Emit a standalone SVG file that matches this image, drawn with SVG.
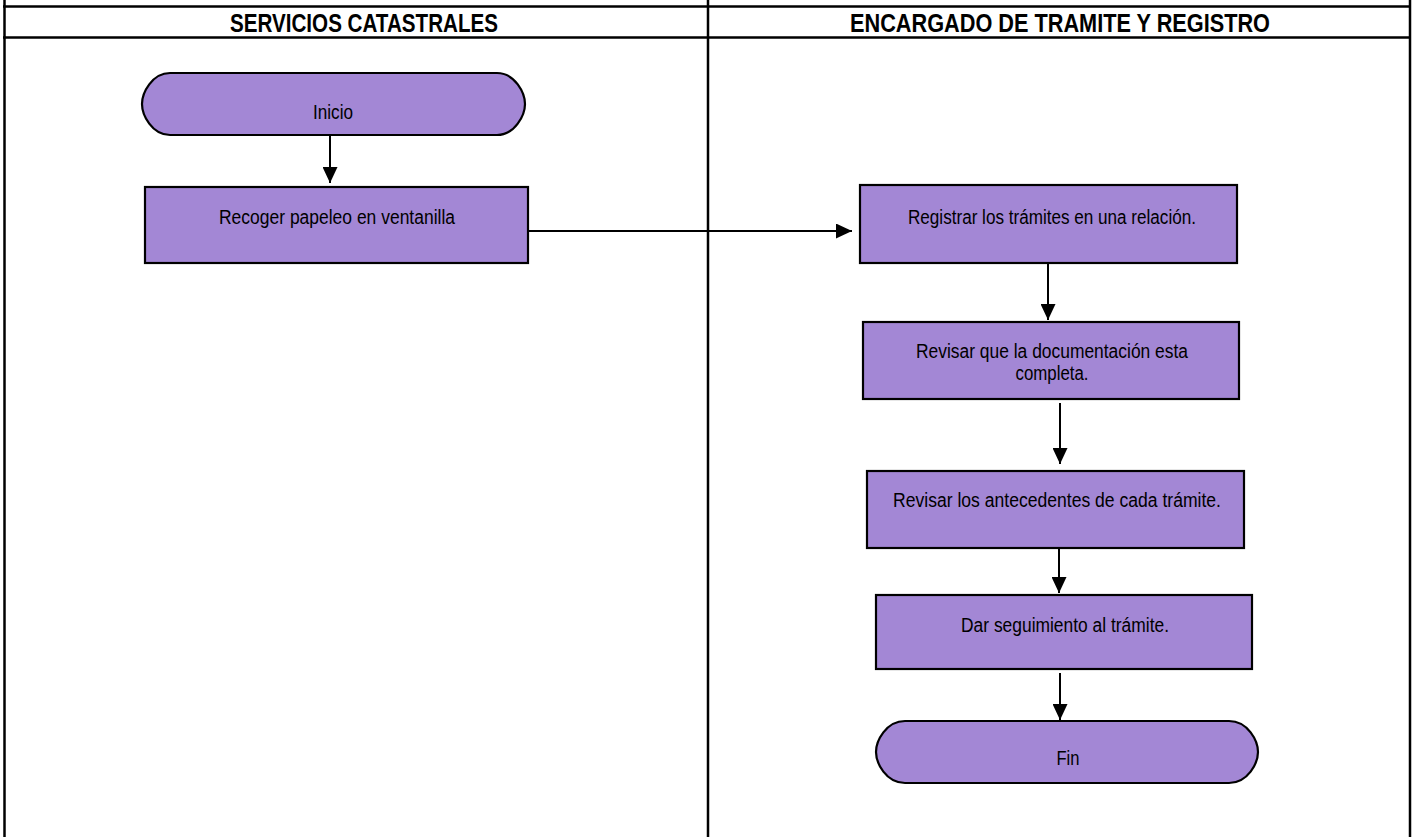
<svg xmlns="http://www.w3.org/2000/svg" width="1416" height="837" viewBox="0 0 1416 837">
  <style>
    .grid { stroke: #000; stroke-width: 2.5; fill: none; }
    .hdr { font-family: "Liberation Sans Narrow", "Liberation Sans", Arial, sans-serif; font-weight: bold; font-size: 26px; fill: #000; text-anchor: middle; }
    .node { fill: #A387D5; stroke: #000; stroke-width: 2.2; }
    .lbl { font-family: "Liberation Sans Narrow", "Liberation Sans", Arial, sans-serif; font-size: 20px; fill: #000; text-anchor: middle; }
    .conn { stroke: #000; stroke-width: 2; fill: none; marker-end: url(#arr); }
  </style>
  <defs>
    <marker id="arr" markerWidth="16" markerHeight="15" refX="16" refY="7.5" orient="auto" markerUnits="userSpaceOnUse">
      <path d="M0,0 L16,7.5 L0,15 Z" fill="#000"/>
    </marker>
  </defs>
  <rect x="0" y="0" width="1416" height="837" fill="#fff"/>

  <g id="table">
    <line class="grid" x1="4.5" y1="0" x2="4.5" y2="837"/>
    <line class="grid" x1="708" y1="0" x2="708" y2="837"/>
    <line class="grid" x1="1410" y1="0" x2="1410" y2="837"/>
    <line class="grid" x1="3" y1="6.5" x2="1411" y2="6.5"/>
    <line class="grid" x1="3" y1="37.5" x2="1411" y2="37.5"/>
    <text class="hdr" x="364" y="32" textLength="268" lengthAdjust="spacingAndGlyphs">SERVICIOS CATASTRALES</text>
    <text class="hdr" x="1060" y="32" textLength="420" lengthAdjust="spacingAndGlyphs">ENCARGADO DE TRAMITE Y REGISTRO</text>
  </g>

  <g id="connectors">
    <line class="conn" x1="330" y1="135" x2="330" y2="183"/>
    <line class="conn" x1="528" y1="231" x2="852" y2="231"/>
    <line class="conn" x1="1048" y1="263" x2="1048" y2="320"/>
    <line class="conn" x1="1060" y1="403" x2="1060" y2="464"/>
    <line class="conn" x1="1059" y1="545" x2="1059" y2="593"/>
    <line class="conn" x1="1060" y1="673" x2="1060" y2="720"/>
  </g>

  <g id="inicio">
    <path class="node" d="M170,73 H497 C515,73 525,93 525,104 C525,115 515,135 497,135 H170 C152,135 142,115 142,104 C142,93 152,73 170,73 Z"/>
    <text class="lbl" x="333" y="119" textLength="40" lengthAdjust="spacingAndGlyphs">Inicio</text>
  </g>

  <g id="recoger">
    <rect class="node" x="145" y="187" width="383" height="76"/>
    <text class="lbl" x="337" y="224" textLength="236" lengthAdjust="spacingAndGlyphs">Recoger papeleo en ventanilla</text>
  </g>

  <g id="registrar">
    <rect class="node" x="860" y="185" width="377" height="78"/>
    <text class="lbl" x="1052" y="224" textLength="288" lengthAdjust="spacingAndGlyphs">Registrar los trámites en una relación.</text>
  </g>

  <g id="revisar-doc">
    <rect class="node" x="863" y="322" width="376" height="77"/>
    <text class="lbl" x="1052" y="358" textLength="272" lengthAdjust="spacingAndGlyphs">Revisar que la documentación esta</text>
    <text class="lbl" x="1052" y="380" textLength="73" lengthAdjust="spacingAndGlyphs">completa.</text>
  </g>

  <g id="revisar-antecedentes">
    <rect class="node" x="867" y="471" width="377" height="77"/>
    <text class="lbl" x="1057" y="507" textLength="328" lengthAdjust="spacingAndGlyphs">Revisar los antecedentes de cada trámite.</text>
  </g>

  <g id="seguimiento">
    <rect class="node" x="876" y="595" width="376" height="74"/>
    <text class="lbl" x="1065" y="632" textLength="208" lengthAdjust="spacingAndGlyphs">Dar seguimiento al trámite.</text>
  </g>

  <g id="fin">
    <path class="node" d="M905,721 H1229 C1248,721 1258,741 1258,752 C1258,763 1248,783 1229,783 H905 C886,783 876,763 876,752 C876,741 886,721 905,721 Z"/>
    <text class="lbl" x="1068" y="765" textLength="23" lengthAdjust="spacingAndGlyphs">Fin</text>
  </g>
</svg>
